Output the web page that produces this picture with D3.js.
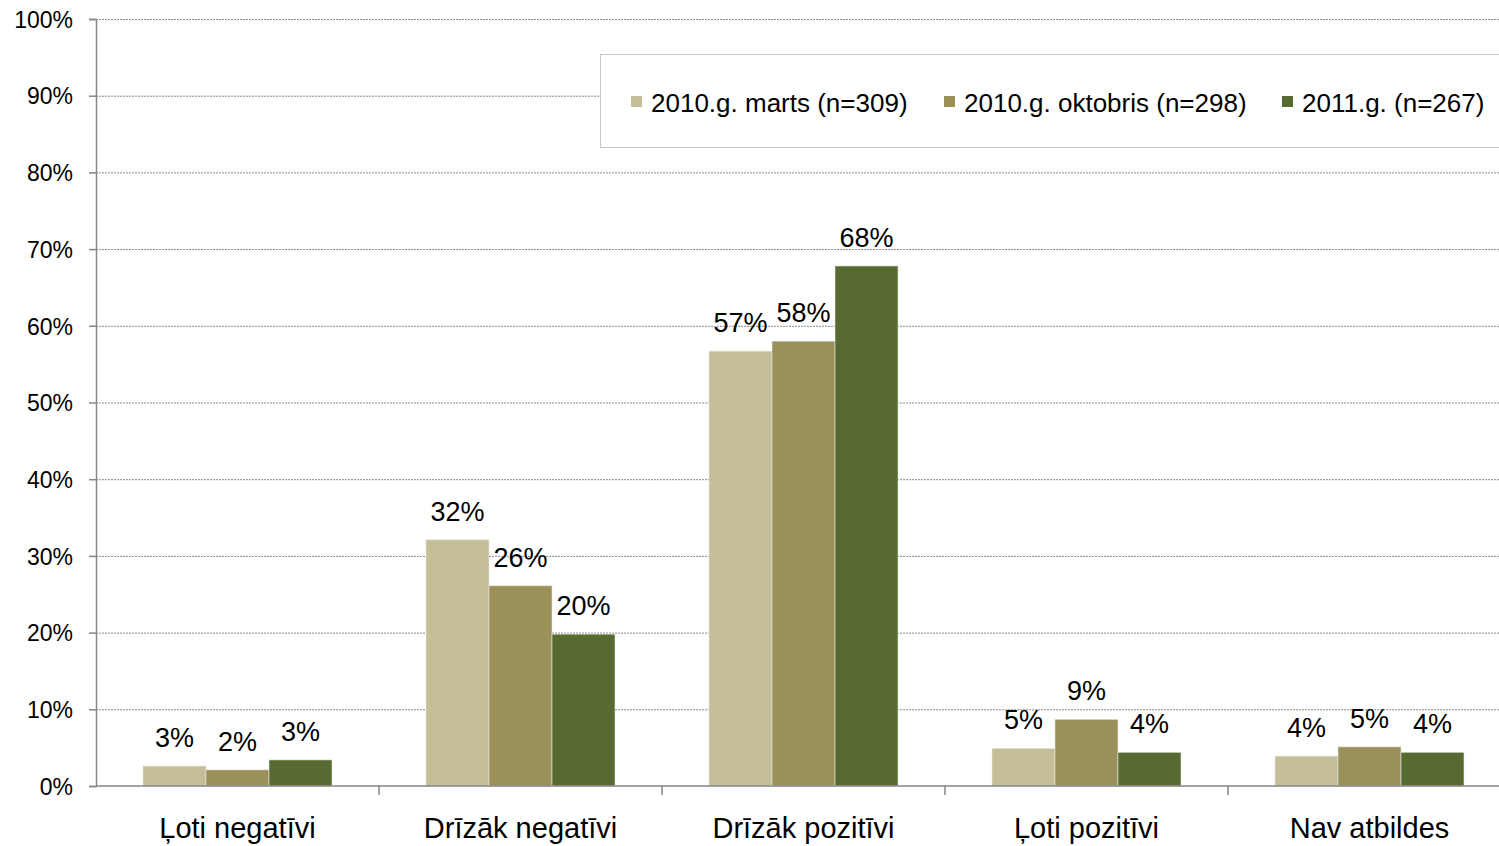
<!DOCTYPE html>
<html>
<head>
<meta charset="utf-8">
<script src="https://cdn.jsdelivr.net/npm/d3@7"></script>
<style>
  body { margin: 0; background: #fff; }
  text { font-family: "Liberation Sans", Arial, sans-serif; fill: #000; }
</style>
</head>
<body>
<div id="chart"></div>
<script>
const categories = ["Ļoti negatīvi", "Drīzāk negatīvi", "Drīzāk pozitīvi", "Ļoti pozitīvi", "Nav atbildes"]
const seriesNames = ["2010.g. marts (n=309)", "2010.g. oktobris (n=298)", "2011.g. (n=267)"]
const marts2010 = [2.6, 32.1, 56.7, 4.9, 3.9]
const oktobris2010 = [2.1, 26.1, 58.0, 8.7, 5.1]
const year2011 = [3.4, 19.8, 67.8, 4.4, 4.4]
const colors = ["#c4bf98", "#9a9059", "#566a31"]
const yTicks = [0, 10, 20, 30, 40, 50, 60, 70, 80, 90, 100]

const width = 1499
const height = 846
const mLeft = 96, mTop = 19, mBottom = 786, mRight = 1511

const svg = d3.select("#chart").append("svg").attr("width", width).attr("height", height)

const x = d3.scaleBand().domain(categories).range([mLeft, mRight]).padding(0)
const xSub = d3.scaleBand().domain(d3.range(3)).range([47, x.bandwidth() - 47]).padding(0)
const y = d3.scaleLinear().domain([0, 100]).range([mBottom, mTop])

const series = [marts2010, oktobris2010, year2011]
const data = categories.map((c, i) => ({cat: c, vals: series.map((s, j) => ({j: j, v: s[i]}))}))

// gridlines
svg.append("g")
    .attr("transform", `translate(${mLeft},0)`)
    .call(d3.axisLeft(y).tickValues(yTicks.slice(1)).tickSize(-(width - mLeft)).tickFormat(""))
    .call(g => g.select(".domain").remove())
    .call(g => g.selectAll("line").attr("stroke", "#8a8a8a").attr("stroke-dasharray", "2,1"))

// y axis
const yAxis = svg.append("g")
    .attr("transform", `translate(${mLeft},0)`)
    .call(d3.axisLeft(y).tickValues(yTicks).tickSize(7).tickPadding(16).tickFormat(d => d + "%"))
yAxis.select(".domain").attr("stroke", "#868686").attr("stroke-width", 1.5)
yAxis.selectAll(".tick line").attr("stroke", "#868686").attr("stroke-width", 1.5)
yAxis.selectAll(".tick text").attr("font-size", 23).attr("dy", "0.36em")
    .style("font-family", "'Liberation Sans', Arial, sans-serif").attr("fill", "#000")

// bars
const groups = svg.append("g").selectAll("g").data(data).join("g")
    .attr("transform", d => `translate(${x(d.cat)},0)`)

groups.selectAll("rect").data(d => d.vals).join("rect")
    .attr("x", d => xSub(d.j))
    .attr("width", xSub.bandwidth())
    .attr("y", d => y(d.v))
    .attr("height", d => y(0) - y(d.v))
    .attr("fill", d => colors[d.j])
    .attr("stroke", "#e8e8e0")
    .attr("stroke-width", 0.6)

groups.selectAll("text").data(d => d.vals).join("text")
    .attr("x", d => xSub(d.j) + xSub.bandwidth() / 2)
    .attr("y", d => y(d.v) - 19)
    .attr("text-anchor", "middle")
    .attr("font-size", 27)
    .text(d => Math.round(d.v) + "%")

// x axis
const xAxisG = svg.append("g")
xAxisG.append("line")
    .attr("x1", mLeft).attr("x2", width)
    .attr("y1", y(0)).attr("y2", y(0))
    .attr("stroke", "#868686").attr("stroke-width", 1.5)
xAxisG.selectAll(".sep").data(categories.slice(1)).join("line")
    .attr("class", "sep")
    .attr("x1", d => x(d)).attr("x2", d => x(d))
    .attr("y1", y(0)).attr("y2", y(0) + 9)
    .attr("stroke", "#868686").attr("stroke-width", 1.5)
xAxisG.selectAll(".lab").data(categories).join("text")
    .attr("class", "lab")
    .attr("x", d => x(d) + xSub(1) + xSub.bandwidth() / 2)
    .attr("y", 838)
    .attr("text-anchor", "middle")
    .attr("font-size", 29)
    .text(d => d)

// legend
const legend = svg.append("g")
legend.append("rect")
    .attr("x", 600.5).attr("y", 54.5).attr("width", 910).attr("height", 93)
    .attr("fill", "#fff").attr("stroke", "#c8c8c8")
const legendX = [631, 944, 1282]
const items = legend.selectAll(".item").data(seriesNames).join("g")
    .attr("class", "item")
    .attr("transform", (d, i) => `translate(${legendX[i]},0)`)
items.append("rect")
    .attr("x", 0).attr("y", 96).attr("width", 11).attr("height", 11)
    .attr("fill", (d, i) => colors[i])
items.append("text")
    .attr("x", 20).attr("y", 112)
    .attr("font-size", 26)
    .text(d => d)
</script>
</body>
</html>
